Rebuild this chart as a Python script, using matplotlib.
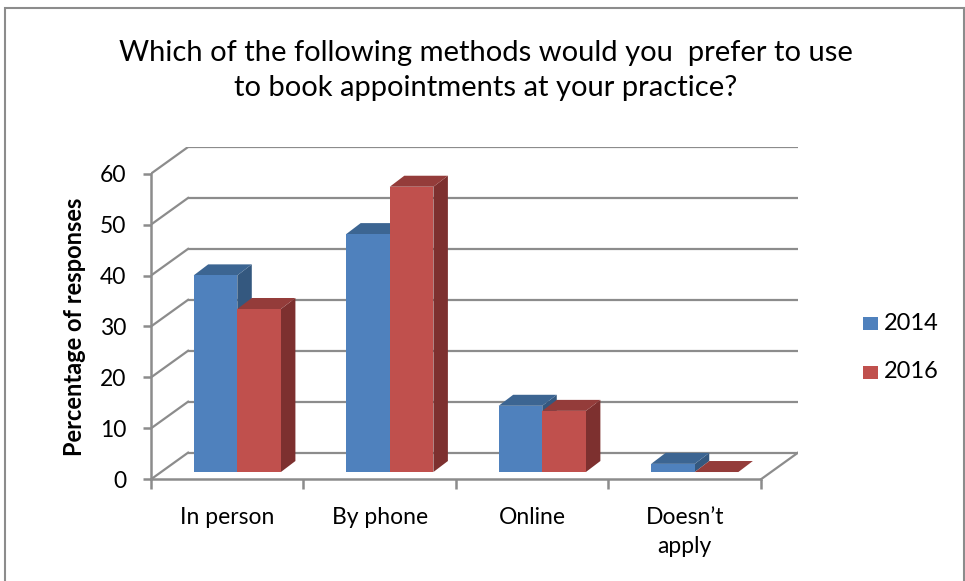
import matplotlib
matplotlib.use("Agg")
import matplotlib.pyplot as plt
from matplotlib.patches import Polygon, Rectangle
import numpy as np

plt.rcParams['font.family'] = ['Lato', 'DejaVu Sans']

categories = ["In person", "By phone", "Online", "Doesn\u2019t\napply"]
series_names = ["2014", "2016"]
values_2014 = [38.6, 46.7, 13.0, 1.6]
values_2016 = [32.0, 56.0, 12.0, 0.0]
y_ticks = [0, 10, 20, 30, 40, 50, 60]
title = "Which of the following methods would you  prefer to use\nto book appointments at your practice?"
ylabel = "Percentage of responses"

front_colors = ["#4F81BD", "#C0504D"]
top_colors = ["#3C6592", "#943C3A"]
side_colors = ["#34587F", "#7D302F"]
grid_color = "#8C8C8C"

W, H = 965, 581
fig = plt.figure(figsize=(W / 100, H / 100), dpi=100)

# outer chart border
fig.patches.append(Rectangle((5 / W, -0.01), (964 - 5) / W, (H - 8) / H + 0.01,
                             transform=fig.transFigure, fill=False,
                             edgecolor="#8C8C8C", linewidth=1.5))

ax_left, ax_right = 151, 798
ax_bottom, ax_top = 479.3, 147
ax = fig.add_axes([ax_left / W, (H - ax_bottom) / H,
                   (ax_right - ax_left) / W, (ax_bottom - ax_top) / H])

# 3-D depth parameters (data units)
n = len(categories)
floor_dx, floor_dy = 0.243, 5.23
front_fx, front_fy = 0.066, 1.43
bar_dx, bar_dy = 0.095, 2.16
bar_w = 0.286
ymax = y_ticks[-1]

ax.set_xlim(0, n + floor_dx)
ax.set_ylim(0, ymax + floor_dy)

# back wall gridlines and left wall diagonals
for t in y_ticks:
    ax.plot([floor_dx, n + floor_dx], [t + floor_dy, t + floor_dy],
            color=grid_color, lw=1.6, zorder=1, solid_capstyle="butt")
    ax.plot([0, floor_dx], [t, t + floor_dy], color=grid_color, lw=1.6, zorder=1)
# floor right edge
ax.plot([n, n + floor_dx], [0, floor_dy], color=grid_color, lw=1.6, zorder=1)

# bars
all_vals = [values_2014, values_2016]
for j, vals in enumerate(all_vals):
    x0s = np.arange(n) + 0.5 - bar_w + j * bar_w + front_fx
    ax.bar(x0s, vals, width=bar_w, bottom=front_fy, align="edge",
           color=front_colors[j], zorder=3 + 3 * j, linewidth=0)
    for x0, v in zip(x0s, vals):
        x1 = x0 + bar_w
        yb, yt = front_fy, front_fy + v
        side = Polygon([(x1, yb), (x1 + bar_dx, yb + bar_dy),
                        (x1 + bar_dx, yt + bar_dy), (x1, yt)],
                       closed=True, facecolor=side_colors[j], lw=0, zorder=2 + 3 * j)
        top = Polygon([(x0, yt), (x1, yt), (x1 + bar_dx, yt + bar_dy),
                       (x0 + bar_dx, yt + bar_dy)],
                      closed=True, facecolor=top_colors[j], lw=0, zorder=2 + 3 * j)
        ax.add_patch(side)
        ax.add_patch(top)

# axes styling
for s in ["top", "right"]:
    ax.spines[s].set_visible(False)
ax.spines["left"].set_bounds(0, ymax)
ax.spines["bottom"].set_bounds(0, n)
for s in ["left", "bottom"]:
    ax.spines[s].set_color(grid_color)
    ax.spines[s].set_linewidth(1.8)
    ax.spines[s].set_zorder(10)

ax.set_yticks(y_ticks)
ax.set_yticklabels([str(t) for t in y_ticks])
ax.set_xticks(np.arange(n + 1))
ax.set_xticklabels([])
ax.set_xticks(np.arange(n) + 0.5, minor=True)
ax.set_xticklabels(categories, minor=True, linespacing=1.45)
ax.tick_params(axis="y", length=6, width=1.8, color=grid_color, pad=12, labelsize=16.5)
ax.tick_params(axis="x", which="major", length=7, width=1.8, color=grid_color)
ax.tick_params(axis="x", which="minor", length=0, pad=20, labelsize=16.5)
ax.patch.set_visible(False)

fig.text(75 / W, 1 - 327 / H, ylabel, rotation=90, ha="center", va="center",
         fontsize=17, fontweight="bold")

fig.text(486 / W, 1 - 70.5 / H, title, ha="center", va="center", fontsize=21,
         linespacing=1.42, multialignment="center")

# legend
leg_rows = [323, 372]
for name, c, yc in zip(series_names, front_colors, leg_rows):
    fig.patches.append(Rectangle((863 / W, 1 - (yc + 6.5) / H), 15 / W, 13 / H,
                                 transform=fig.transFigure, facecolor=c,
                                 edgecolor="none"))
    fig.text(884 / W, 1 - yc / H, name, ha="left", va="center", fontsize=17)

fig.savefig("out.png", dpi=100)
